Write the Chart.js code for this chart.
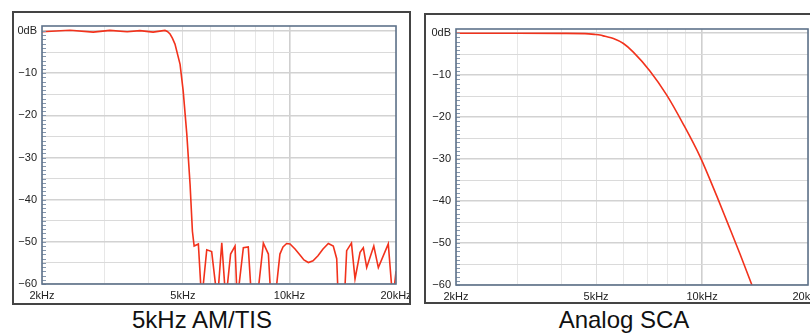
<!DOCTYPE html>
<html>
<head>
<meta charset="utf-8">
<script src="https://cdn.jsdelivr.net/npm/chart.js@4.4.0/dist/chart.umd.min.js"></script>
<style>
html, body { margin: 0; padding: 0; background: #fff; width: 810px; height: 333px; overflow: hidden; font-family: "Liberation Sans", Arial, sans-serif; }
.box { position: absolute; border: 2px solid #444; box-sizing: border-box; }
.box canvas { position: absolute; left: 0; top: 0; }
.cap { position: absolute; width: 300px; text-align: center; font-size: 24px; line-height: 24px; color: #111; white-space: nowrap; }
</style>
</head>
<body>
<div class="box" style="left:12px;top:11px;width:399px;height:294px"><canvas id="amtis" width="395" height="290"></canvas></div>
<div class="box" style="left:424px;top:13px;width:399px;height:291px"><canvas id="sca" width="395" height="287"></canvas></div>
<div class="cap" style="left:52px;top:308px">5kHz AM/TIS</div>
<div class="cap" style="left:474px;top:308px">Analog SCA</div>
<script>
// frequency response (Hz, dB); values below -60 fall off the chart
const freqAmTis = [2000, 2400, 2790, 3110, 3480, 3780, 4120, 4450, 4520, 4600, 4670, 4750, 4910, 5010, 5130, 5240, 5320,
  5380, 5530, 5650, 5840, 6030, 6260, 6440, 6610, 6820, 7020, 7120, 7410, 7650, 7820, 8100, 8440, 8720, 8870, 9100,
  9400, 9590, 9820, 10040, 10370, 10710, 10990, 11310, 11660, 12040, 12440, 12880, 13300, 13600, 13740, 14290,
  14510, 14970, 15320, 15830, 16170, 16530, 17310, 17830, 19020, 19590, 20000];
const dbAmTis = [-0.15, 0.2, -0.25, 0.15, -0.15, 0.1, -0.25, 0.15, -0.1, -0.7, -1.7, -3.1, -7.9, -14.2, -24.5, -36.4, -47.5,
  -51.0, -50.5, -64, -51.9, -52.3, -64, -50.2, -64, -52.9, -51.0, -64, -51.4, -51.2, -64, -64, -50.3, -52.9, -64, -64,
  -52.9, -51.2, -50.4, -50.5, -51.7, -53.1, -54.3, -54.9, -54.5, -53.3, -51.7, -50.4, -51.0, -54.0, -64, -64,
  -52.1, -50.3, -58.8, -52.5, -51.4, -56.1, -51.0, -56.1, -50.5, -64, -57];

const freqSca = [2000, 3000, 4000, 4650, 4970, 5130, 5300, 5600, 5980, 6380, 7110, 7940, 8850, 9870, 11030, 11780, 12820, 13840, 14500];
const dbSca = [0, -0.02, -0.05, -0.1, -0.3, -0.45, -0.75, -1.25, -2.45, -4.5, -9.0, -14.75, -21.7, -29.4, -38.95, -44.9, -52.6, -59.9, -64.5];

const xGridValues = [2000, 3000, 4000, 5000, 6000, 7000, 8000, 9000, 10000, 20000];
const xLabelValues = [2000, 5000, 10000, 20000];
const xLabelTexts = ['2kHz', '5kHz', '10kHz', '20kHz'];
const yGridValues = [-60, -55, -50, -45, -40, -35, -30, -25, -20, -15, -10, -5, 0];
const yLabelValues = [0, -10, -20, -30, -40, -50, -60];
const yLabelTexts = ['0dB', '\u221210', '\u221220', '\u221230', '\u221240', '\u221250', '\u221260'];

const lineColor = '#f2321c';
const frameColor = '#5e728a';

const framePlugin = {
  id: 'frame',
  afterDraw(chart) {
    const a = chart.chartArea, ctx = chart.ctx, y = chart.scales.y;
    ctx.save();
    ctx.strokeStyle = '#8496ad';
    ctx.lineWidth = 1;
    ctx.beginPath();
    for (let v = -60; v <= 0; v++) {
      const py = Math.round(y.getPixelForValue(v)) + 0.5;
      ctx.moveTo(a.left, py);
      ctx.lineTo(a.left + 4, py);
    }
    ctx.stroke();
    ctx.strokeStyle = frameColor;
    ctx.lineWidth = 1.6;
    ctx.strokeRect(a.left, a.top, a.right - a.left, a.bottom - a.top);
    ctx.restore();
  }
};

function makeChart(id, freqs, dbs, yMax, padTop, yWidth, xHeight, smooth) {
  return new Chart(document.getElementById(id), {
    type: 'line',
    data: {
      datasets: [{
        data: freqs.map((f, i) => ({ x: f, y: dbs[i] })),
        borderColor: lineColor,
        borderWidth: 1.6,
        pointRadius: 0,
        tension: 0,
        cubicInterpolationMode: smooth ? 'monotone' : 'default'
      }]
    },
    options: {
      responsive: false,
      animation: false,
      layout: { padding: { top: padTop, right: 13, left: 0, bottom: 0 } },
      plugins: { legend: { display: false }, tooltip: { enabled: false } },
      scales: {
        x: {
          type: 'logarithmic',
          min: 2000,
          max: 20000,
          afterBuildTicks: s => { s.ticks = xGridValues.map(v => ({ value: v })); },
          afterFit: s => { s.height = xHeight; s.paddingLeft = 0; s.paddingRight = 0; },
          ticks: {
            autoSkip: false,
            maxRotation: 0,
            padding: 5,
            color: '#222',
            font: { family: 'Liberation Sans', size: 11 },
            callback: v => { const i = xLabelValues.indexOf(v); return i < 0 ? '' : xLabelTexts[i]; }
          },
          grid: {
            drawTicks: false,
            color: c => {
              const v = c.tick && c.tick.value;
              if (v === 10000) return '#cfcfcf';
              if (v === 5000) return '#dedede';
              return '#e7e7e7';
            },
            lineWidth: c => (c.tick && c.tick.value === 10000 ? 1.6 : 1)
          },
          border: { display: false }
        },
        y: {
          min: -60,
          max: yMax,
          afterBuildTicks: s => { s.ticks = yGridValues.map(v => ({ value: v })); },
          afterFit: s => { s.width = yWidth; s.paddingTop = 0; s.paddingBottom = 0; },
          ticks: {
            padding: 5,
            color: '#222',
            font: { family: 'Liberation Sans', size: 11 },
            callback: v => { const i = yLabelValues.indexOf(v); return i < 0 ? '' : yLabelTexts[i]; }
          },
          grid: {
            drawTicks: false,
            color: c => (c.tick && c.tick.value % 10 === 0 ? '#d2d2d2' : '#dadada'),
            lineWidth: c => (c.tick && c.tick.value % 10 === 0 ? 1.5 : 1)
          },
          border: { display: false }
        }
      }
    },
    plugins: [framePlugin]
  });
}

makeChart('amtis', freqAmTis, dbAmTis, 1.2, 13, 28, 19, false);
makeChart('sca', freqSca, dbSca, 1.0, 14, 30, 17, true);
</script>
</body>
</html>
